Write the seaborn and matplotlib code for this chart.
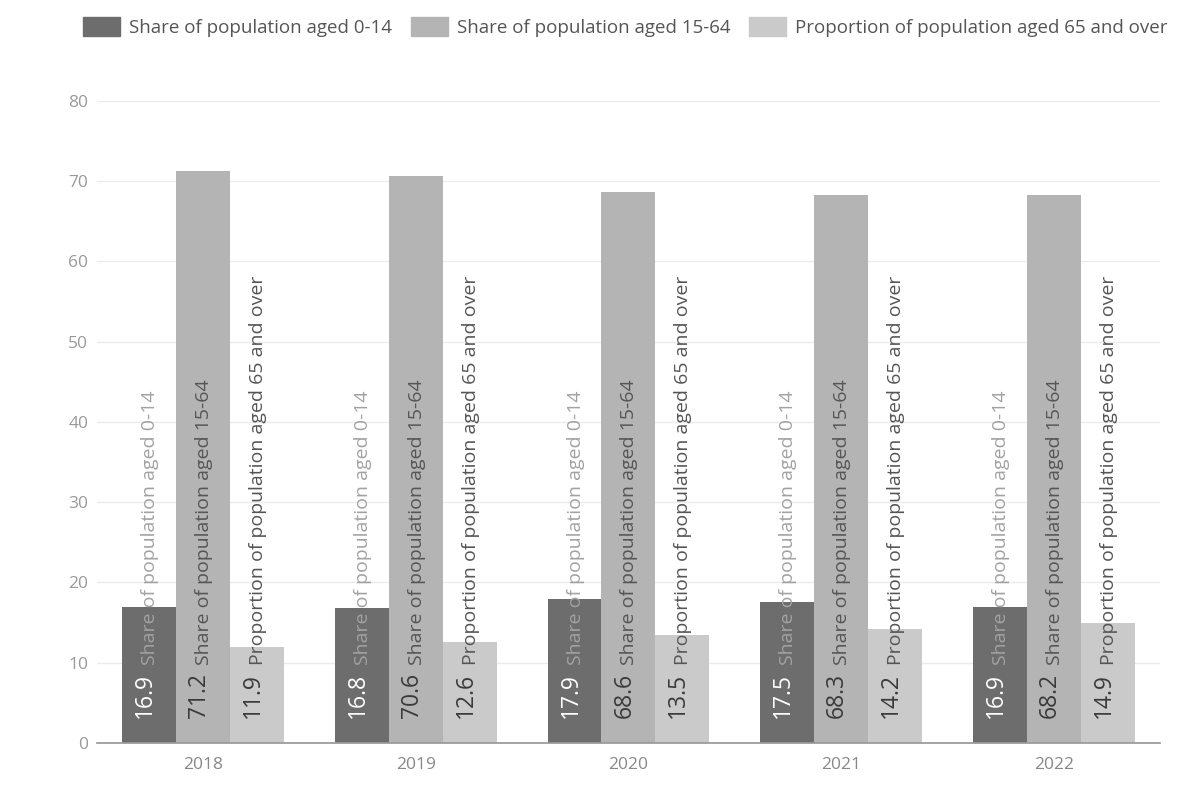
import pandas as pd
import numpy as np
import matplotlib.pyplot as plt
import seaborn as sns

# values
years = ['2018', '2019', '2020', '2021', '2022']
series = ['Share of population aged 0-14',
          'Share of population aged 15-64',
          'Proportion of population aged 65 and over']
aged_0_14 = [16.9, 16.8, 17.9, 17.5, 16.9]
aged_15_64 = [71.2, 70.6, 68.6, 68.3, 68.2]
aged_65_over = [11.9, 12.6, 13.5, 14.2, 14.9]

palette = ['#6d6d6d', '#b4b4b4', '#cacaca']
value_colors = ['white', '#3a3a3a', '#3a3a3a']
name_colors = ['#a2a2a2', '#555555', '#555555']

# long table for seaborn
rows = []
for name, vals in zip(series, [aged_0_14, aged_15_64, aged_65_over]):
    for y, v in zip(years, vals):
        rows.append({'Year': y, 'Series': name, 'Value': v})
df = pd.DataFrame(rows)

sns.set_theme(style='white')
plt.rcParams['font.family'] = ['Open Sans', 'DejaVu Sans']

fig = plt.figure(figsize=(11.79, 7.87), dpi=100)
ax = fig.add_axes([0.082, 0.056, 0.902, 0.816])

sns.barplot(data=df, x='Year', y='Value', hue='Series', hue_order=series,
            order=years, palette=palette, width=0.76, saturation=1,
            edgecolor='none', ax=ax, legend=False)

ax.set_ylim(0, 80)
ax.set_yticks(range(0, 81, 10))
ax.set_xlim(-0.5, 4.5)
ax.grid(axis='y', color='#ebebeb', linewidth=1)
ax.set_axisbelow(True)
for s in ['top', 'right', 'left']:
    ax.spines[s].set_visible(False)
ax.spines['bottom'].set_color('#999999')
ax.tick_params(axis='y', colors='#999999', labelsize=12.5, length=0, pad=6)
ax.tick_params(axis='x', colors='#888888', labelsize=12.5, length=0, pad=10)
ax.set_xlabel('')
ax.set_ylabel('')

# labels inside bars: value then series name, rotated
for i, cont in enumerate(ax.containers):
    for bar in cont:
        cx = bar.get_x() + bar.get_width() / 2
        val = bar.get_height()
        ax.annotate(f'{val:.1f}', (cx, 0), xytext=(-4, 25), textcoords='offset pixels',
                    rotation=90, ha='center', va='bottom', fontsize=16.5,
                    color=value_colors[i])
        ax.annotate(series[i], (cx, 0), xytext=(1, 78), textcoords='offset pixels',
                    rotation=90, ha='center', va='bottom', fontsize=14,
                    color=name_colors[i])

# legend on top
handles = [plt.Rectangle((0, 0), 1, 1, color=c) for c in palette]
fig.legend(handles, series, loc='upper left', bbox_to_anchor=(0.056, 1.0),
           ncol=3, frameon=False, fontsize=13.5, labelcolor='#555555',
           handlelength=2.0, handleheight=1.2, columnspacing=1.0, handletextpad=0.45)

plt.savefig('out.png', dpi=100)
